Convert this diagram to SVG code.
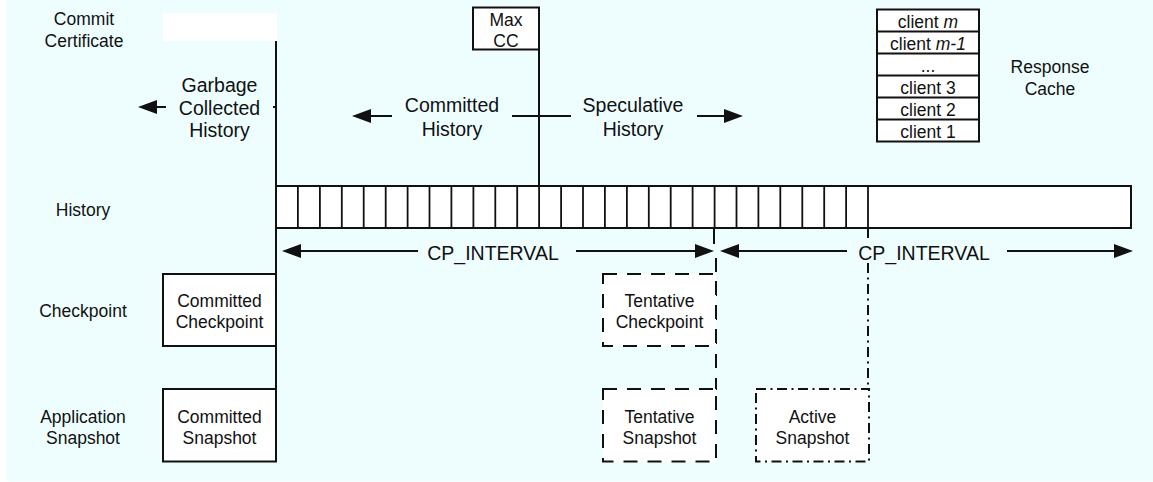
<svg xmlns="http://www.w3.org/2000/svg" width="1153" height="482" viewBox="0 0 1153 482">
  <style>
    text { font-family: "Liberation Sans", Arial, Helvetica, sans-serif; fill: #111; text-anchor: middle; }
    .sm { font-size: 17.5px; }
    .lg { font-size: 19.5px; }
    .box { fill: #fff; stroke: #111; stroke-width: 2; }
    .dash { fill: #fff; stroke: #111; stroke-width: 2; stroke-dasharray: 14 10; }
    .dashdot { fill: #fff; stroke: #111; stroke-width: 2; stroke-dasharray: 10 4.5 2 4.5; }
    .ln { stroke: #111; stroke-width: 2; fill: none; }
    .cell { stroke: #111; stroke-width: 1.8; }
  </style>
  <defs>
    <marker id="ah" markerWidth="19" markerHeight="14" refX="16" refY="7" orient="auto" markerUnits="userSpaceOnUse">
      <path d="M0,0 L19,7 L0,14 z" fill="#111"/>
    </marker>
  </defs>

  <!-- backdrop -->
  <rect x="6" y="0" width="1147" height="481" fill="#eefeff"/>

  <!-- row labels -->
  <g id="row-labels" class="sm">
    <text x="84" y="25">Commit</text>
    <text x="84" y="47">Certificate</text>
    <text x="83" y="216">History</text>
    <text x="83" y="317">Checkpoint</text>
    <text x="83" y="423">Application</text>
    <text x="83" y="444">Snapshot</text>
  </g>

  <!-- blank commit certificate slot -->
  <g id="cc-slot">
    <rect x="163" y="13" width="114" height="28" fill="#fff"/>
  </g>

  <!-- connectors -->
  <g id="connectors">
    <line class="ln" x1="276" y1="41" x2="276" y2="390"/>
    <line class="ln" x1="273" y1="107" x2="276" y2="107"/>
    <line class="ln" x1="539" y1="49" x2="539" y2="187"/>
    <line class="ln" x1="512" y1="116" x2="571" y2="116"/>
    <!-- history direction arrows -->
    <line class="ln" x1="166" y1="107" x2="141" y2="107" marker-end="url(#ah)"/>
    <line class="ln" x1="392" y1="116" x2="355" y2="116" marker-end="url(#ah)"/>
    <line class="ln" x1="697" y1="116" x2="740" y2="116" marker-end="url(#ah)"/>
    <!-- checkpoint intervals -->
    <line class="ln" x1="418" y1="251" x2="285" y2="251" marker-end="url(#ah)"/>
    <line class="ln" x1="576" y1="251" x2="711" y2="251" marker-end="url(#ah)"/>
    <line class="ln" x1="847" y1="251" x2="723" y2="251" marker-end="url(#ah)"/>
    <line class="ln" x1="1007" y1="251" x2="1130" y2="251" marker-end="url(#ah)"/>
    <!-- checkpoint boundaries -->
    <line class="ln" x1="714" y1="228" x2="714" y2="244"/>
    <line class="ln" x1="716" y1="258" x2="716" y2="390" stroke-dasharray="14 10"/>
    <line class="ln" x1="868" y1="228" x2="868" y2="238"/>
    <line class="ln" x1="868" y1="263" x2="868" y2="390" stroke-dasharray="10 4.5 2 4.5"/>
  </g>

  <!-- in-between labels -->
  <g id="history-labels" class="lg">
    <text x="219.5" y="92">Garbage</text>
    <text x="219.5" y="114.5">Collected</text>
    <text x="219.5" y="137">History</text>
    <text x="452" y="112">Committed</text>
    <text x="452" y="136">History</text>
    <text x="633" y="112">Speculative</text>
    <text x="633" y="136">History</text>
    <text x="493" y="260">CP_INTERVAL</text>
    <text x="924" y="260">CP_INTERVAL</text>
  </g>

  <!-- max commit certificate -->
  <g id="max-cc">
    <rect class="box" x="473" y="7.5" width="66" height="42"/>
    <text class="sm" x="506" y="26">Max</text>
    <text class="sm" x="506" y="47">CC</text>
  </g>

  <!-- response cache -->
  <g id="response-cache">
    <rect class="box" x="877" y="9.5" width="102" height="132"/>
    <line class="cell" x1="877" y1="31.5" x2="979" y2="31.5"/>
    <line class="cell" x1="877" y1="53.5" x2="979" y2="53.5"/>
    <line class="cell" x1="877" y1="75.5" x2="979" y2="75.5"/>
    <line class="cell" x1="877" y1="97.5" x2="979" y2="97.5"/>
    <line class="cell" x1="877" y1="119.5" x2="979" y2="119.5"/>
    <text class="sm" x="928" y="28">client <tspan font-style="italic">m</tspan></text>
    <text class="sm" x="928" y="50">client <tspan font-style="italic">m-1</tspan></text>
    <text class="sm" x="928" y="72">...</text>
    <text class="sm" x="928" y="94">client 3</text>
    <text class="sm" x="928" y="116">client 2</text>
    <text class="sm" x="928" y="138">client 1</text>
    <text class="sm" x="1050" y="73">Response</text>
    <text class="sm" x="1050" y="95">Cache</text>
  </g>

  <!-- history log -->
  <g id="history">
    <rect class="box" x="276" y="186" width="855" height="42"/>
    <g class="cell">
      <line x1="297.9" y1="186" x2="297.9" y2="228"/>
      <line x1="319.9" y1="186" x2="319.9" y2="228"/>
      <line x1="341.8" y1="186" x2="341.8" y2="228"/>
      <line x1="363.7" y1="186" x2="363.7" y2="228"/>
      <line x1="385.7" y1="186" x2="385.7" y2="228"/>
      <line x1="407.6" y1="186" x2="407.6" y2="228"/>
      <line x1="429.5" y1="186" x2="429.5" y2="228"/>
      <line x1="451.4" y1="186" x2="451.4" y2="228"/>
      <line x1="473.4" y1="186" x2="473.4" y2="228"/>
      <line x1="495.3" y1="186" x2="495.3" y2="228"/>
      <line x1="517.2" y1="186" x2="517.2" y2="228"/>
      <line x1="539.1" y1="186" x2="539.1" y2="228"/>
      <line x1="561.1" y1="186" x2="561.1" y2="228"/>
      <line x1="583.0" y1="186" x2="583.0" y2="228"/>
      <line x1="604.9" y1="186" x2="604.9" y2="228"/>
      <line x1="626.9" y1="186" x2="626.9" y2="228"/>
      <line x1="648.8" y1="186" x2="648.8" y2="228"/>
      <line x1="670.7" y1="186" x2="670.7" y2="228"/>
      <line x1="692.6" y1="186" x2="692.6" y2="228"/>
      <line x1="714.6" y1="186" x2="714.6" y2="228"/>
      <line x1="736.5" y1="186" x2="736.5" y2="228"/>
      <line x1="758.4" y1="186" x2="758.4" y2="228"/>
      <line x1="780.3" y1="186" x2="780.3" y2="228"/>
      <line x1="802.3" y1="186" x2="802.3" y2="228"/>
      <line x1="824.2" y1="186" x2="824.2" y2="228"/>
      <line x1="846.1" y1="186" x2="846.1" y2="228"/>
      <line x1="868" y1="186" x2="868" y2="228"/>
    </g>
  </g>

  <!-- checkpoints and snapshots -->
  <g id="committed-checkpoint">
    <rect class="box" x="163" y="274" width="113" height="72"/>
    <text class="sm" x="219.5" y="307">Committed</text>
    <text class="sm" x="219.5" y="328">Checkpoint</text>
  </g>
  <g id="committed-snapshot">
    <rect class="box" x="163" y="389" width="113" height="72.5"/>
    <text class="sm" x="219.5" y="423">Committed</text>
    <text class="sm" x="219.5" y="444">Snapshot</text>
  </g>
  <g id="tentative-checkpoint">
    <rect class="dash" x="603" y="274" width="113" height="72"/>
    <text class="sm" x="659.5" y="307">Tentative</text>
    <text class="sm" x="659.5" y="328">Checkpoint</text>
  </g>
  <g id="tentative-snapshot">
    <rect class="dash" x="603" y="389" width="113" height="72.5"/>
    <text class="sm" x="659.5" y="423">Tentative</text>
    <text class="sm" x="659.5" y="444">Snapshot</text>
  </g>
  <g id="active-snapshot">
    <rect class="dashdot" x="756" y="389" width="113" height="72.5"/>
    <text class="sm" x="812.5" y="423">Active</text>
    <text class="sm" x="812.5" y="444">Snapshot</text>
  </g>
</svg>
